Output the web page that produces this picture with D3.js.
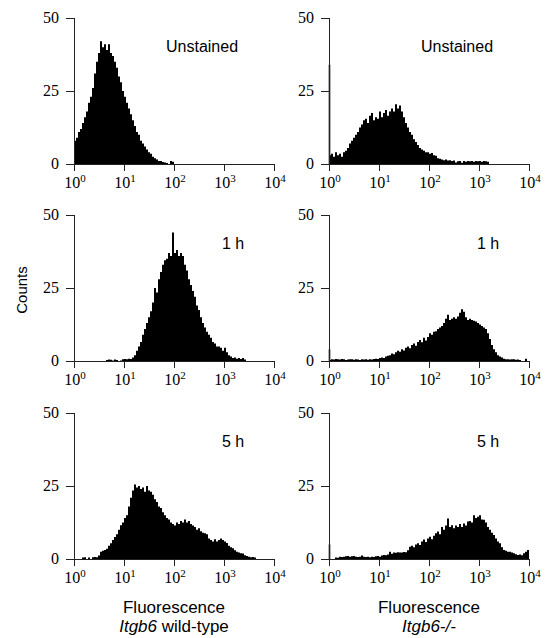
<!DOCTYPE html>
<html>
<head>
<meta charset="utf-8">
<script src="https://cdn.jsdelivr.net/npm/d3@7"></script>
<style>
body { margin:0; background:#fff; }
.serif { font-family: 'Liberation Serif', 'Times New Roman', serif; }
.sans { font-family: 'Liberation Sans', Arial, sans-serif; }
</style>
</head>
<body>
<script>
// counts per channel, 25 channels per decade, starting at 10^0
var wtUnstained = [8,9,11,12,14,16,18,21,23,26,31,35,38,42,40,41,39,41,38,37,35,33,30,28,25,23,21,19,17,15,13,11,10,8,7,6,5,4,3.5,2.5,2,1.5,1,1,0.7,0.5,0.3,0,1,0.8]
var koUnstained = [3,3.5,2.5,4,3,3.5,2.5,4,4.5,5.5,7,8,9,10,11,12.5,13.5,15,15.5,14,16.5,17.5,15,16,15.5,18,16,17.5,18.5,16.5,18,19,18,20.5,19,20,18,16,14,12.5,11,10,8.5,7.5,6.5,5.5,5,4.5,4,4,3.5,3.8,3,2.8,2,1.8,1.5,1.3,1.5,1.2,1.3,1,1.2,0.5,0.9,1,0.4,1,0.8,1,0.9,1,0.8,1,0.9,1,0.8,1,0.9,0.8]
var wt1h = [0,0,0,0,0,0,0,0,0,0,0,0,0,0,0,0,0.3,0.5,0.4,0.2,0.5,0.3,0,0.2,0.6,0.7,0.6,0.8,0.7,1.2,2,3.5,5,6.5,9,11,13,15,17,20,25,23.5,28,30.5,33,34.5,35,37,36,44,37,38,36,37,36,33,31,28,26,24,22,19,17.5,15,13,11.5,10,9,8,6.5,6,5,5,4.5,3.5,4.5,3,2,1.5,1,1.2,0.8,1,0.7,1,0.5]
var ko1h = [0.3,0.6,0.5,0.7,0.6,0.5,0.7,0.6,0.3,0.5,0.6,0.6,0.4,0.6,0.5,0.3,0.6,0.5,0.6,0.4,0.6,0.5,0.7,0.8,0.7,1,1.2,1,1.5,1.8,2,2.6,2.3,3,3.5,3.2,4,3.6,4.5,5,4.4,5.5,6,5.2,6.5,7.2,6.4,8,7,8.2,9.5,9,10,10.2,11,11.5,12,13,14.5,15.8,14,14.5,15,14.5,15.2,16.5,17.7,16.9,15,14,14.5,14,13.8,13.5,13,12.5,12,11.5,11,9.5,7.5,5.5,4,3,2,1.5,1.2,0.8,0.6,0.6,0.5,0.6,0.6,0.4,0.5,0.3,0,0,0.8,0]
var wt5h = [0,0,0,0,0.5,0.6,0,0.5,0,0.6,0.7,0.6,1.2,2.5,2.8,3.1,3.5,4.5,5.4,6.5,7.5,8.5,10,11.6,12.5,14,15,18,21,23.5,25.5,24.5,25,24,24.5,23,25,23.5,23,22,20.5,19.5,18,17.5,16,15,14,13.5,12.5,12,11.5,12.5,12,13,12.5,13.5,12.5,13,12,11.5,11,10,10.5,9.5,9,8.8,8.5,7,6.5,6,6.8,6,6.5,7,6.5,6,5.5,4.5,4,3.7,3,2.5,2.2,2,1.9,1.3,1,0.8,0.6,0.7,0.5]
var ko5h = [0,0,0,0.5,0.4,0.8,0.7,0.8,0.9,1,0.8,0.9,1,0.8,0.7,0.8,1.2,0.8,0.7,0.8,0.6,0.8,0.7,0.9,1,0.8,1.2,1.4,1.3,1.5,2.5,1.8,2.2,2.1,2.3,2.2,2.2,2.4,2.3,3,4.2,4.5,4,5,5.4,4.8,6,6.7,5.8,7,7.6,6.8,8,8.8,9.4,8.5,11,10,11.5,13.9,11,11.6,10.5,11.5,11,12,11,12.2,11.5,12.8,13,12.5,15,14,14.5,15,13.5,13.4,12.5,11,10,9,8.2,7,6,5.4,4,3.1,2.8,2.5,2.5,2.2,2,1.6,1.4,1.5,1.3,2,2.5,3.1]
// pile-up in the very first channel (drawn on the axis)
var firstChannel = [0,34,0,4,0,5]

var decades = [0,1,2,3,4]
var yTicks = [0,25,50]
var rowLabels = ['Unstained','1 h','5 h']
var colLabels = [['Fluorescence','Itgb6',' wild-type'],['Fluorescence','Itgb6-/-','']]

var binsPerDecade = 25
var width = 554, height = 638
var colX = [74,329], rowY = [18,215,413]
var pw = 200, ph = 146

var panels = [
	{col:0,row:0,data:wtUnstained},
	{col:1,row:0,data:koUnstained},
	{col:0,row:1,data:wt1h},
	{col:1,row:1,data:ko1h},
	{col:0,row:2,data:wt5h},
	{col:1,row:2,data:ko5h}
]

var svg = d3.select('body')
	.append('svg')
	.attr('width',width)
	.attr('height',height)

panels.forEach(function(p,k){
	var x0 = colX[p.col], y0 = rowY[p.row]

	var escalaX = d3.scaleLog()
		.domain([1,10000])
		.range([x0,x0+pw])
	var escalaY = d3.scaleLinear()
		.domain([0,50])
		.range([y0+ph,y0])

	var pts = p.data.map((v,i)=>[Math.pow(10,i/binsPerDecade),v])
	pts.push([Math.pow(10,p.data.length/binsPerDecade),p.data[p.data.length-1]])

	var area = d3.area()
		.curve(d3.curveStepAfter)
		.x(d=>escalaX(d[0]))
		.y0(escalaY(0))
		.y1(d=>escalaY(d[1]))

	var g = svg.append('g')

	g.append('path')
		.attr('d',area(pts))
		.attr('fill','#000')

	if (firstChannel[k] > 0) {
		g.append('line')
			.attr('x1',escalaX(1)+0.5).attr('x2',escalaX(1)+0.5)
			.attr('y1',escalaY(0)).attr('y2',escalaY(firstChannel[k]))
			.attr('stroke','#000')
			.attr('stroke-width',1.6)
	}

	// axes
	g.append('line')
		.attr('x1',x0-8).attr('x2',x0+pw)
		.attr('y1',escalaY(0)+0.5).attr('y2',escalaY(0)+0.5)
		.attr('stroke','#222')
	g.append('line')
		.attr('x1',x0+0.5).attr('x2',x0+0.5)
		.attr('y1',escalaY(50)).attr('y2',escalaY(0))
		.attr('stroke','#222')

	g.selectAll('.yt')
		.data(yTicks).enter()
		.append('line')
		.attr('x1',x0-8).attr('x2',x0)
		.attr('y1',d=>Math.round(escalaY(d))+0.5)
		.attr('y2',d=>Math.round(escalaY(d))+0.5)
		.attr('stroke','#222')

	g.selectAll('.yl')
		.data(yTicks).enter()
		.append('text')
		.attr('class','serif')
		.attr('x',x0-15)
		.attr('y',d=>escalaY(d)+5)
		.attr('text-anchor','end')
		.attr('font-size',16)
		.text(d=>d)

	g.selectAll('.xt')
		.data(decades).enter()
		.append('line')
		.attr('x1',d=>Math.round(escalaX(Math.pow(10,d)))+0.5)
		.attr('x2',d=>Math.round(escalaX(Math.pow(10,d)))+0.5)
		.attr('y1',escalaY(0)).attr('y2',escalaY(0)+7)
		.attr('stroke','#222')

	var xl = g.selectAll('.xl')
		.data(decades).enter()
		.append('text')
		.attr('class','serif')
		.attr('x',d=>escalaX(Math.pow(10,d))+1)
		.attr('y',escalaY(0)+24)
		.attr('text-anchor','middle')
		.attr('font-size',16)
	xl.append('tspan').text('10')
	xl.append('tspan')
		.attr('dy',-6)
		.attr('font-size',11)
		.text(d=>d)

	g.append('text')
		.attr('class','sans')
		.attr('x',x0+(p.row==0?92:148))
		.attr('y',y0+34)
		.attr('font-size',16)
		.text(rowLabels[p.row])
})

// shared labels
svg.append('text')
	.attr('class','sans')
	.attr('transform','translate(27,290) rotate(-90)')
	.attr('text-anchor','middle')
	.attr('font-size',15)
	.text('Counts')

colLabels.forEach(function(c,i){
	var cx = colX[i]+pw/2
	svg.append('text')
		.attr('class','sans')
		.attr('x',cx).attr('y',613)
		.attr('text-anchor','middle')
		.attr('font-size',17)
		.text(c[0])
	var t = svg.append('text')
		.attr('class','sans')
		.attr('x',cx).attr('y',632)
		.attr('text-anchor','middle')
		.attr('font-size',17)
	t.append('tspan').attr('font-style','italic').text(c[1])
	t.append('tspan').text(c[2])
})
</script>
</body>
</html>
